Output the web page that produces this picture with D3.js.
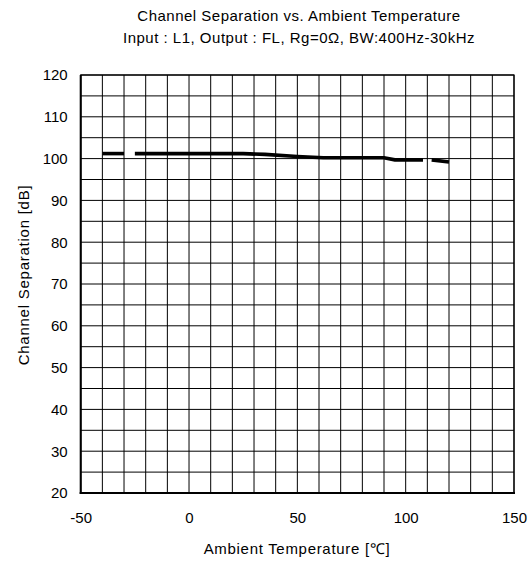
<!DOCTYPE html>
<html><head><meta charset="utf-8">
<script src="https://cdn.jsdelivr.net/npm/d3@7"></script>
<style>
body{margin:0;background:#fff;}
text{font-family:"Liberation Sans",Arial,sans-serif;fill:#000;}
</style></head>
<body>
<svg id="c" width="532" height="566"></svg>
<script>
const titleLines = ["Channel Separation vs. Ambient Temperature", "Input : L1, Output : FL, Rg=0\u03A9, BW:400Hz-30kHz"];
const xLabel = "Ambient Temperature [\u2103]";
const yLabel = "Channel Separation [dB]";
const xTicks = [-50, 0, 50, 100, 150];
const yTicks = [20, 30, 40, 50, 60, 70, 80, 90, 100, 110, 120];
// curve drawn in separate dash segments
const seg1Temp = [-40, -30];
const seg1Val  = [101.2, 101.2];
const seg2Temp = [-25, 25, 35, 50, 62, 75, 90, 95, 108];
const seg2Val  = [101.2, 101.2, 101.0, 100.5, 100.2, 100.2, 100.2, 99.7, 99.7];
const seg3Temp = [112, 120];
const seg3Val  = [99.7, 99.2];

const svg = d3.select("#c");
const m = {l: 80.7, r: 514, t: 75, b: 493};
const x = d3.scaleLinear().domain([-50, 150]).range([m.l, m.r]);
const y = d3.scaleLinear().domain([20, 120]).range([m.b, m.t]);
const FONT = "'Liberation Sans',Arial,sans-serif";

const g = svg.append("g");
// grid
const xGrid = d3.range(-50, 151, 10);
const yGrid = d3.range(20, 121, 5);
g.selectAll(".vg").data(xGrid).enter().append("line")
  .attr("x1", d => x(d)).attr("x2", d => x(d)).attr("y1", m.t).attr("y2", m.b)
  .attr("stroke", "#000").attr("stroke-width", 1);
g.selectAll(".hg").data(yGrid).enter().append("line")
  .attr("y1", d => y(d)).attr("y2", d => y(d)).attr("x1", m.l).attr("x2", m.r)
  .attr("stroke", "#000").attr("stroke-width", 1);
// frame
g.append("rect").attr("x", m.l).attr("y", m.t).attr("width", m.r - m.l).attr("height", m.b - m.t)
  .attr("fill", "none").attr("stroke", "#000").attr("stroke-width", 1.2);
g.append("line").attr("x1", m.l).attr("x2", m.l).attr("y1", m.t).attr("y2", m.b + 1).attr("stroke", "#000").attr("stroke-width", 2);
g.append("line").attr("x1", m.l - 1).attr("x2", m.r + 1).attr("y1", m.b).attr("y2", m.b).attr("stroke", "#000").attr("stroke-width", 2);

// axes labels via d3 axes (no domain/ticks lines)
const xAxis = svg.append("g").attr("transform", `translate(0,${m.b})`)
  .call(d3.axisBottom(x).tickValues(xTicks).tickSize(0).tickPadding(19).tickFormat(d => String(d)));
xAxis.select(".domain").remove();
xAxis.selectAll("text").style("font-size", "15px").style("font-family", FONT).attr("fill", "#000");
const yAxis = svg.append("g").attr("transform", `translate(${m.l},0)`)
  .call(d3.axisLeft(y).tickValues(yTicks).tickSize(0).tickPadding(13).tickFormat(d => String(d)));
yAxis.select(".domain").remove();
yAxis.selectAll("text").style("font-size", "15px").style("font-family", FONT).attr("fill", "#000");

// curve
const line = d3.line().x(d => x(d[0])).y(d => y(d[1]));
[[seg1Temp, seg1Val], [seg2Temp, seg2Val], [seg3Temp, seg3Val]].forEach(([t, v]) => {
  svg.append("path").datum(t.map((d, i) => [d, v[i]]))
    .attr("d", line).attr("fill", "none").attr("stroke", "#000").attr("stroke-width", 3.6);
});

// titles
svg.append("text").attr("x", 299).attr("y", 21).attr("text-anchor", "middle").style("font-size", "15px").style("letter-spacing", "0.5px").text(titleLines[0]);
svg.append("text").attr("x", 299).attr("y", 42.5).attr("text-anchor", "middle").style("font-size", "15px").style("letter-spacing", "0.5px").text(titleLines[1]);
svg.append("text").attr("x", 297).attr("y", 554).attr("text-anchor", "middle").style("font-size", "15px").style("letter-spacing", "0.7px").text(xLabel);
svg.append("text").attr("transform", `translate(29,275) rotate(-90)`).attr("text-anchor", "middle").style("font-size", "15px").style("letter-spacing", "0.75px").text(yLabel);
</script>
</body></html>
